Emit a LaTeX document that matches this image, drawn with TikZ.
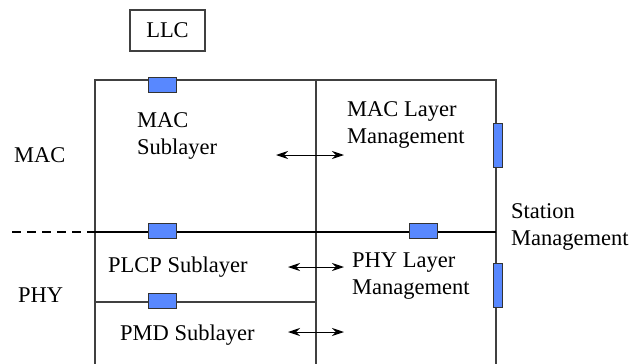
\documentclass[tikz,border=0pt]{standalone}
\usepackage{fontspec}
\setmainfont{Liberation Serif}
\usetikzlibrary{arrows.meta,positioning}

\definecolor{sapblue}{RGB}{88,136,255}

\tikzset{
  frame/.style={draw=black!75, line width=1.1pt},
  bus/.style={draw=black, line width=2.2pt},
  sap/.style={draw=black!80, fill=sapblue, line width=0.9pt, inner sep=0pt,
    minimum width=28pt, minimum height=15pt},
  sapv/.style={sap, minimum width=9pt, minimum height=44pt},
  lbl/.style={anchor=base west, inner sep=0pt, align=left,
    font=\fontsize{22.5}{27}\selectfont},
  prim/.style={line width=1pt, {Stealth[length=12pt,width=8pt]}-{Stealth[length=12pt,width=8pt]}}
}

\begin{document}
\begin{tikzpicture}[x=1pt,y=-1pt]
  \useasboundingbox (0,0) rectangle (629,364);

  % frame
  \coordinate (tl) at (95,80);
  \coordinate (tm) at (316,80);
  \coordinate (tr) at (496,80);
  \coordinate (bl) at (95,364);
  \coordinate (bm) at (316,364);
  \coordinate (br) at (496,364);
  \draw[frame] (bl) -- (tl) -- (tr) -- (br);
  \draw[frame] (tm) -- (bm);

  % LLC box
  \node[draw=black!75, line width=1.1pt, minimum width=75pt, minimum height=41pt,
    inner sep=0pt, font=\fontsize{22.5}{27}\selectfont] (llc) at (167.5,30.5) {LLC};

  % MAC/PHY boundary and PLCP/PMD boundary
  \coordinate (dashl) at (12,232);
  \coordinate (busl) at (95,232);
  \coordinate (busr) at (496,232);
  \draw[bus, dashed, dash pattern=on 9pt off 6pt] (dashl) -- (busl);
  \draw[bus] (busl) -- (busr);
  \coordinate (pmdl) at (95,302);
  \coordinate (pmdr) at (316,302);
  \draw[frame] (pmdl) -- (pmdr);

  % service access points
  \node[sap] (sapmac) at (162,84.5) {};
  \node[sap] (sapphy) at (162,230.5) {};
  \node[sap] (sapplme) at (423.5,230.5) {};
  \node[sap] (sappmd) at (162,301) {};
  \node[sapv] (sapmlme) at (497.5,145) {};
  \node[sapv] (sapsme) at (497.5,285.5) {};

  % labels (base = last line)
  \node[lbl] (mac) at (14,162) {MAC};
  \node[lbl] (phy) at (18,302) {PHY};
  \node[lbl] (macsub) at (137,154) {MAC\\Sublayer};
  \node[lbl] (mlme) at (347,143) {MAC Layer\\Management};
  \node[lbl] (sme) at (511,245) {Station\\Management};
  \node[lbl] (plcp) at (108,272) {PLCP Sublayer};
  \node[lbl] (plme) at (352,294) {PHY Layer\\Management};
  \node[lbl] (pmd) at (120,340) {PMD Sublayer};

  % primitives
  \coordinate (m1) at (276,155);
  \coordinate (m2) at (344,155);
  \coordinate (p1) at (288,267);
  \coordinate (p2) at (344,267);
  \coordinate (d1) at (288,332);
  \coordinate (d2) at (344,332);
  \draw[prim] (m1) -- (m2);
  \draw[prim] (p1) -- (p2);
  \draw[prim] (d1) -- (d2);
\end{tikzpicture}
\end{document}
